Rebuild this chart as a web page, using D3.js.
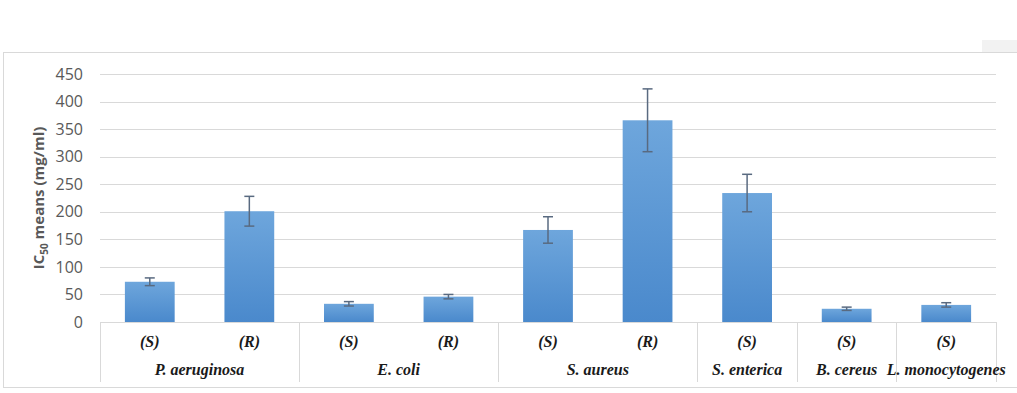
<!DOCTYPE html>
<html lang="en">
<head>
  <meta charset="UTF-8">
  <title>IC50 means</title>
  <script src="https://d3js.org/d3.v7.min.js"></script>
  <style>
    body { margin: 0; background: #fff; }
    svg { display: block; }
    .ytick text { fill: #595959; font-family: 'Open Sans', Arial, sans-serif; font-size: 16px; }
    .grid line { stroke: #d9d9d9; stroke-width: 1; }
    .cat { font-family: "Liberation Serif", "DejaVu Serif", serif; font-weight: bold; font-style: italic; font-size: 16px; fill: #1a1a1a; }
  </style>
</head>
<body>
<svg id="chart" width="1017" height="393"></svg>
<script>
// data
const species = ["P. aeruginosa", "P. aeruginosa", "E. coli", "E. coli", "S. aureus", "S. aureus", "S. enterica", "B. cereus", "L. monocytogenes"];
const strains = ["(S)", "(R)", "(S)", "(R)", "(S)", "(R)", "(S)", "(S)", "(S)"];
const means   = [73, 201, 33, 46, 167, 366, 234, 24, 31];
const errors  = [7, 27, 4, 4, 24, 57, 34, 3, 4];
const yTicks  = [0, 50, 100, 150, 200, 250, 300, 350, 400, 450];

const svg = d3.select("#chart");
const plotL = 100, plotR = 996, plotT = 74, plotB = 322;

// chart frame
svg.append("rect").attr("x", 3.5).attr("y", 52.5).attr("width", 1030).attr("height", 335)
  .attr("fill", "none").attr("stroke", "#d9d9d9");
svg.append("rect").attr("x", 982).attr("y", 40).attr("width", 35).attr("height", 12).attr("fill", "#f2f2f2");

const ids = d3.range(means.length);
const x = d3.scaleBand().domain(ids).range([plotL, plotR]).paddingInner(0.5).paddingOuter(0.25);
const y = d3.scaleLinear().domain([0, 450]).range([plotB, plotT]);

// gridlines
svg.append("g").attr("class", "grid")
  .selectAll("line").data(yTicks.filter(d => d > 0)).join("line")
  .attr("x1", plotL).attr("x2", plotR)
  .attr("y1", d => Math.round(y(d)) + 0.5).attr("y2", d => Math.round(y(d)) + 0.5);

// y axis labels
const yAxis = svg.append("g").attr("class", "ytick").attr("transform", `translate(${plotL},0)`)
  .call(d3.axisLeft(y).tickValues(yTicks).tickSize(0).tickPadding(17));
yAxis.select(".domain").remove();

// y title
svg.append("text")
  .attr("transform", "translate(44,198) rotate(-90)")
  .attr("text-anchor", "middle")
  .attr("fill", "#595959")
  .style("font-family", "'Open Sans', Arial, sans-serif")
  .style("font-weight", "bold").style("font-size", "15px")
  .call(t => {
    t.append("tspan").text("IC");
    t.append("tspan").text("50").attr("font-size", "10px").attr("dy", 4);
    t.append("tspan").text(" means (mg/ml)").attr("dy", -4);
  });

// bar gradient
const grad = svg.append("defs").append("linearGradient").attr("id", "barGrad")
  .attr("x1", 0).attr("y1", 0).attr("x2", 0).attr("y2", 1);
grad.append("stop").attr("offset", "0%").attr("stop-color", "#6ea6dc");
grad.append("stop").attr("offset", "100%").attr("stop-color", "#4a89cc");

svg.append("g").selectAll("rect").data(ids).join("rect")
  .attr("x", i => x(i)).attr("width", x.bandwidth())
  .attr("y", i => y(means[i])).attr("height", i => y(0) - y(means[i]))
  .attr("fill", "url(#barGrad)");

// error bars
const eb = svg.append("g").attr("stroke", "#596a80").attr("stroke-width", 1.5);
ids.forEach(i => {
  const cx = x(i) + x.bandwidth() / 2;
  eb.append("line").attr("x1", cx).attr("x2", cx)
    .attr("y1", y(means[i] + errors[i])).attr("y2", y(means[i] - errors[i]));
  [means[i] + errors[i], means[i] - errors[i]].forEach(v => {
    eb.append("line").attr("x1", cx - 5).attr("x2", cx + 5).attr("y1", y(v)).attr("y2", y(v));
  });
});

// category axis line
svg.append("line").attr("x1", plotL).attr("x2", plotR).attr("y1", plotB + 0.5).attr("y2", plotB + 0.5)
  .attr("stroke", "#d9d9d9");

// strain labels
svg.append("g").selectAll("text").data(ids).join("text").attr("class", "cat")
  .attr("x", i => x(i) + x.bandwidth() / 2).attr("y", 347)
  .attr("text-anchor", "middle").text(i => strains[i]);

// species groups
const groups = [];
ids.forEach(i => {
  const g = groups[groups.length - 1];
  if (g && g.name === species[i]) g.last = i;
  else groups.push({ name: species[i], first: i, last: i });
});
const step = x.step();
const edge = i => x(i) - (step - x.bandwidth()) / 2;
const seps = [edge(0)].concat(groups.map(g => edge(g.last) + step));
svg.append("g").selectAll("line").data(seps).join("line")
  .attr("x1", d => Math.round(d) + 0.5).attr("x2", d => Math.round(d) + 0.5)
  .attr("y1", plotB).attr("y2", 382).attr("stroke", "#d9d9d9");
svg.append("g").selectAll("text").data(groups).join("text").attr("class", "cat")
  .attr("x", g => (edge(g.first) + edge(g.last) + step) / 2).attr("y", 375)
  .attr("text-anchor", "middle").text(g => g.name);
</script>
</body>
</html>
